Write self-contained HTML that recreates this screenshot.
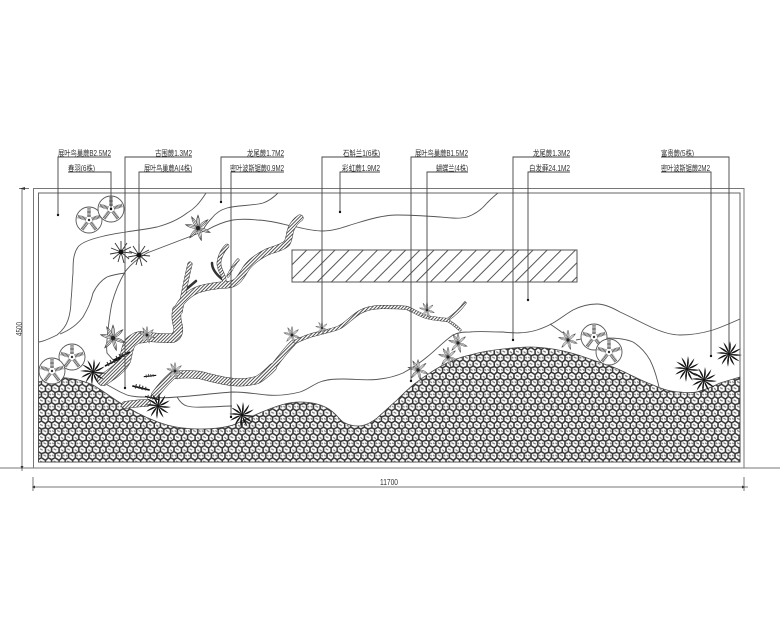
<!DOCTYPE html>
<html lang="zh">
<head>
<meta charset="utf-8">
<title>Planting plan</title>
<style>
html,body{margin:0;padding:0;background:#fff;width:780px;height:624px;overflow:hidden}
svg{display:block}
text{font-family:"Liberation Sans","Noto Sans CJK SC",sans-serif;font-size:8px;fill:#333}
.l{fill:none;stroke:#444;stroke-width:.9}
.c{fill:none;stroke:#555;stroke-width:.9}
.b{fill:none;stroke:#333;stroke-linecap:round;stroke-linejoin:round}
.h{fill:none;stroke:url(#hatch);stroke-linecap:round;stroke-linejoin:round}
</style>
</head>
<body>
<svg width="780" height="624" viewBox="0 0 780 624" xmlns="http://www.w3.org/2000/svg">
<defs>
<pattern id="peb" width="20" height="18" patternUnits="userSpaceOnUse" patternTransform="translate(38 372) scale(.68)">
<rect width="20" height="18" fill="#fff"/>
<path d="M0,3 L5,0 L11,4 L15,0 L20,3 M0,3 V9 M11,4 V10 M20,3 V9 M0,9 L5,12 L11,10 L15,12 L20,9 M5,12 V18 M15,12 V18" fill="none" stroke="#333" stroke-width="2.3"/>
<path d="M3,5 L7,7 M14,6 L17,8 M8,14 L12,16 M1,14 L3,16 M17,14 L19,16" fill="none" stroke="#777" stroke-width="1.8"/>
</pattern>
<pattern id="hatch" width="2.4" height="2.4" patternUnits="userSpaceOnUse" patternTransform="rotate(45)">
<rect width="2.4" height="2.4" fill="#fff"/>
<rect width=".9" height="2.4" fill="#444"/>
</pattern>
<pattern id="wide" width="10" height="14" patternUnits="userSpaceOnUse" patternTransform="translate(292 250) rotate(45)">
<rect width=".9" height="14" fill="#444"/>
</pattern>
<path id="bl" d="M0,0 Q3,-6 1,-13 Q-.3,-6 0,0Z" fill="#111"/>
<g id="palm">
<use href="#bl"/><use href="#bl" transform="rotate(30)"/><use href="#bl" transform="rotate(60)"/>
<use href="#bl" transform="rotate(90)"/><use href="#bl" transform="rotate(120)"/><use href="#bl" transform="rotate(150)"/>
<use href="#bl" transform="rotate(180)"/><use href="#bl" transform="rotate(210)"/><use href="#bl" transform="rotate(240)"/>
<use href="#bl" transform="rotate(270)"/><use href="#bl" transform="rotate(300)"/><use href="#bl" transform="rotate(330)"/>
<circle r="1.6" fill="#111"/>
</g>
<path id="lf" d="M0,0 Q3,-6 0,-13 Q-3,-6 0,0Z M0,0 V-13" fill="#fff" stroke="#444" stroke-width=".6"/>
<g id="leaf">
<use href="#lf"/><use href="#lf" transform="rotate(50)"/><use href="#lf" transform="rotate(110)"/>
<use href="#lf" transform="rotate(165)"/><use href="#lf" transform="rotate(220)"/><use href="#lf" transform="rotate(285)"/><use href="#lf" transform="rotate(330)"/>
<circle r="2" fill="#222"/>
</g>
<g id="thin">
<path d="M0,0 L0,-11 M0,0 L6,-9 M0,0 L10,-5 M0,0 L11,1 M0,0 L8,7 M0,0 L3,11 M0,0 L-3,10 M0,0 L-8,7 M0,0 L-11,2 M0,0 L-10,-4 M0,0 L-6,-9" stroke="#333" stroke-width=".9" fill="none"/>
<circle r="2.4" fill="#111"/>
</g>
<path id="sp" d="M0,-3 V-12" stroke="#555" stroke-width="3.6" stroke-dasharray=".8 .5" fill="none"/>
<g id="circ">
<circle r="13" fill="#fff" stroke="#555" stroke-width=".9"/>
<use href="#sp"/><use href="#sp" transform="rotate(72)"/><use href="#sp" transform="rotate(144)"/>
<use href="#sp" transform="rotate(216)"/><use href="#sp" transform="rotate(288)"/>
<circle r="1.2" fill="#333"/>
</g>
<g id="fern">
<path d="M-8,4 L8,-4" stroke="#111" stroke-width="1.6" fill="none"/>
<path d="M-6,0 L-4,4 M-3,-2 L-1,2 M0,-3 L2,1 M3,-4 L5,-1" stroke="#333" stroke-width="1.1" fill="none"/>
</g>
</defs>

<!-- drawing frame -->
<rect x="33.5" y="188.5" width="710.5" height="279.5" fill="#fff" stroke="#777" stroke-width="1"/>
<rect x="38.5" y="193" width="701.5" height="269" fill="#fff" stroke="#666" stroke-width="1"/>

<!-- pebble ground -->
<path d="M38.5,382 C50,378 60,377 67,378 C78,379 86,382 93,385 C105,392 116,401 127,407 C140,415 153,421 167,425 C178,428 190,429 200,429 C212,429 223,428 233,425 C245,420 256,414 267,410 C277,406 288,402 300,402 C312,402 320,404 327,408 C335,412 338,418 343,422 C348,425 352,426 358,426 C365,426 372,422 377,418 C384,412 390,406 397,400 C404,393 410,387 417,382 C425,376 434,370 443,365 C452,360 461,357 470,355 C481,352 492,350 503,349 C512,348 520,347 530,347 C538,347 546,348 553,349 C565,351 576,354 587,358 C598,362 609,365 620,370 C631,375 642,381 653,385 C662,389 671,392 680,392 C687,393 694,393 700,391 C707,389 714,386 720,383 C727,381 733,379 740,377 L740,462 L38.5,462 Z" fill="url(#peb)" stroke="#444" stroke-width=".8"/>

<!-- hatched panel -->
<rect x="292" y="250" width="285" height="32" fill="url(#wide)" stroke="#555" stroke-width="1"/>

<!-- planting zone curves -->
<path class="c" d="M206,193 C199,204 194,209 187,213 C178,220 168,224 157,227 C138,231 118,232 100,237 C88,240 81,243 78,247 C73,254 73,263 73,273 C72,283 72,292 71,300 C71,308 70,314 68,320 C66,326 62,331 57,335 C51,338 45,341 39,342"/>
<path class="c" d="M278,193 C273,198 269,201 263,203 C252,206 238,205 227,208 C220,210 215,214 212,218 C208,222 205,226 203,230"/>
<path class="c" d="M297,227 C285,225 270,220 257,220 C248,219 240,219 233,220 C222,222 214,226 207,230 L147,253 C137,259 130,265 125,272 C119,282 115,292 112,303 C110,312 109,321 108,330 C107,338 106,346 107,353 L115,362"/>
<path class="c" d="M125,273 C118,274 112,275 107,277 C100,281 96,287 93,293 C91,302 88,308 83,317 C77,325 70,330 60,334"/>
<path class="c" d="M297,227 C305,229 314,231 323,231 C335,231 346,226 357,223 C370,219 384,215 397,215 C412,215 426,216 440,217 C450,218 459,219 467,217 C476,214 482,209 487,203 C491,199 494,196 498,193"/>
<path class="c" d="M100,380 C104,383 109,386 113,388 C118,391 122,393 127,395 C134,397 140,397 147,397 C157,398 167,398 177,397 C196,396 214,393 233,392 C245,392 256,394 267,395 C278,396 288,395 300,392 C307,390 314,384 320,382 C328,379 336,379 343,379 C356,379 368,381 380,379 C389,378 396,376 403,373 C412,368 420,363 427,357 C436,350 444,341 453,335 C459,332 464,332 470,332 C481,331 492,332 503,332 C512,333 524,334 537,330 C543,328 548,326 553,323 C560,319 566,314 573,310 C581,306 589,304 597,304 C605,304 613,308 620,312 C631,317 642,323 653,328 C662,332 671,335 680,335 C692,335 703,333 713,330 C722,327 731,323 740,319"/>
<path class="c" d="M550,324 C556,328 560,331 563,333 M576,340 C585,338 596,337 607,338 C617,338 626,339 633,342 C641,347 646,353 650,360 C654,368 657,378 659,387"/>
<path class="c" d="M177,397 C180,402 183,405 187,406 C194,408 200,407 207,407 C215,407 224,406 232,406"/>

<!-- branches: outline -->
<g class="b" stroke-width="10">
<path stroke-width="12" d="M103,380 C112,374 121,368 125,360 C127,352 127,348 130,343 C134,339 137,337 144,337"/>
<path stroke-width="9.5" d="M144,337 C155,337 164,339 173,338 C178,336 179,331 178,326 C176,320 176,315 177,310"/>
<path stroke-width="7" d="M177,310 C180,302 188,294 197,290 C205,287 213,286 222,285 C230,285 235,284 239,279 C243,274 244,271 247,267 C252,261 259,256 267,252 C274,249 282,248 287,243 C290,238 289,232 292,227 C294,223 297,220 300,218"/>
<path stroke-width="7.5" d="M125,405 C132,404 140,403 147,403"/>
<path stroke-width="8" d="M155,395 C160,388 166,381 173,375 C182,374 192,374 200,375 C211,378 222,381 233,382 C242,383 250,382 257,380 C263,377 268,372 273,367"/>
<path stroke-width="6" d="M273,367 C280,358 286,350 293,343"/>
<path stroke-width="4" d="M293,343 C302,338 311,335 320,333 C327,331 334,330 340,327 C347,323 353,316 360,312 C367,308 375,307 383,307 C391,307 400,307 407,308 C414,311 420,315 427,317 C434,319 441,319 447,320"/>
<path stroke-width="3" d="M447,320 C452,323 456,326 460,330 M447,320 C453,316 460,310 465,303"/>
<path stroke-width="5" d="M180,312 C183,296 186,280 190,264"/>
<path stroke-width="2.5" d="M183,292 L196,281"/>
<path stroke-width="4.5" d="M224,285 C226,276 218,270 219,262 C220,255 223,250 227,246"/>
<path stroke-width="2.5" d="M222,279 C217,275 212,270 212,263"/>
<path stroke-width="3" d="M228,276 C231,270 234,264 238,260"/>
</g>
<!-- branches: hatch fill -->
<g class="h">
<path stroke-width="11" d="M103,380 C112,374 121,368 125,360 C127,352 127,348 130,343 C134,339 137,337 144,337"/>
<path stroke-width="8.5" d="M144,337 C155,337 164,339 173,338 C178,336 179,331 178,326 C176,320 176,315 177,310"/>
<path stroke-width="6" d="M177,310 C180,302 188,294 197,290 C205,287 213,286 222,285 C230,285 235,284 239,279 C243,274 244,271 247,267 C252,261 259,256 267,252 C274,249 282,248 287,243 C290,238 289,232 292,227 C294,223 297,220 300,218"/>
<path stroke-width="6.5" d="M125,405 C132,404 140,403 147,403"/>
<path stroke-width="7" d="M155,395 C160,388 166,381 173,375 C182,374 192,374 200,375 C211,378 222,381 233,382 C242,383 250,382 257,380 C263,377 268,372 273,367"/>
<path stroke-width="5" d="M273,367 C280,358 286,350 293,343"/>
<path stroke-width="3" d="M293,343 C302,338 311,335 320,333 C327,331 334,330 340,327 C347,323 353,316 360,312 C367,308 375,307 383,307 C391,307 400,307 407,308 C414,311 420,315 427,317 C434,319 441,319 447,320"/>
<path stroke-width="2" d="M447,320 C452,323 456,326 460,330 M447,320 C453,316 460,310 465,303"/>
<path stroke-width="4" d="M180,312 C183,296 186,280 190,264"/>
<path stroke-width="3.5" d="M224,285 C226,276 218,270 219,262 C220,255 223,250 227,246"/>
<path stroke-width="2" d="M228,276 C231,270 234,264 238,260"/>
</g>

<!-- round plants -->
<use href="#circ" x="89" y="220"/>
<use href="#circ" x="111" y="209"/>
<use href="#circ" x="72" y="357"/>
<use href="#circ" x="52" y="371"/>
<use href="#circ" x="594" y="337"/>
<use href="#circ" x="609" y="352"/>

<!-- dark palms -->
<use href="#palm" x="93" y="372"/>
<use href="#palm" x="158" y="406"/>
<use href="#palm" x="242" y="415"/>
<use href="#palm" x="687" y="369"/>
<use href="#palm" x="704" y="380"/>
<use href="#palm" x="729" y="354"/>

<!-- thin dark plants -->
<use href="#thin" x="121" y="252"/>
<use href="#thin" x="139" y="255"/>

<!-- leaf plants -->
<use href="#leaf" transform="translate(198 228)"/>
<use href="#leaf" transform="translate(113 338)"/>
<use href="#leaf" transform="translate(147 335) scale(.65)"/>
<use href="#leaf" transform="translate(292 335) scale(.65)"/>
<use href="#leaf" transform="translate(175 371) scale(.65)"/>
<use href="#leaf" transform="translate(322 328) scale(.5)"/>
<use href="#leaf" transform="translate(427 310) scale(.6)"/>
<use href="#leaf" transform="translate(458 343) scale(.75)"/>
<use href="#leaf" transform="translate(448 357) scale(.75)"/>
<use href="#leaf" transform="translate(418 370) scale(.8)"/>
<use href="#leaf" transform="translate(568 340) scale(.75)"/>

<!-- small ferns -->
<use href="#fern" x="113" y="362"/>
<use href="#fern" x="122" y="356"/>
<use href="#fern" transform="translate(150 376) rotate(20) scale(.7)"/>
<use href="#fern" transform="translate(141 388) rotate(40)"/>
<use href="#fern" transform="translate(152 398) rotate(40) scale(.8)"/>

<!-- leader lines -->
<g class="l">
<path d="M111,157 H58 V215"/>
<path d="M68,172 H111 V209"/>
<path d="M192,157 H125 V388"/>
<path d="M192,172 H139 V253"/>
<path d="M284,157 H221 V202"/>
<path d="M284,172 H231 V417"/>
<path d="M380,157 H322 V327"/>
<path d="M380,172 H340 V212"/>
<path d="M468,157 H411 V381"/>
<path d="M468,172 H427 V310"/>
<path d="M570,157 H513 V340"/>
<path d="M570,172 H528 V300"/>
<path d="M661,157 H729 V352"/>
<path d="M661,172 H711 V356"/>
</g>
<g fill="#111">
<circle cx="58" cy="215" r="1.2"/><circle cx="111" cy="209" r="1.2"/><circle cx="125" cy="388" r="1.2"/>
<circle cx="221" cy="202" r="1.2"/><circle cx="231" cy="417" r="1.2"/><circle cx="340" cy="212" r="1.2"/>
<circle cx="411" cy="381" r="1.2"/><circle cx="528" cy="300" r="1.2"/><circle cx="711" cy="356" r="1.2"/>
<circle cx="513" cy="340" r="1.2"/>
</g>

<!-- labels -->
<text x="58" y="156" textLength="53" lengthAdjust="spacingAndGlyphs">展叶鸟巢蕨B2.5M2</text>
<text x="68" y="171" textLength="27" lengthAdjust="spacingAndGlyphs">春羽(6株)</text>
<text x="155" y="156" textLength="37" lengthAdjust="spacingAndGlyphs">古围蕨1.3M2</text>
<text x="144" y="171" textLength="48" lengthAdjust="spacingAndGlyphs">展叶鸟巢蕨A(4株)</text>
<text x="247" y="156" textLength="37" lengthAdjust="spacingAndGlyphs">龙尾蕨1.7M2</text>
<text x="230" y="171" textLength="54" lengthAdjust="spacingAndGlyphs">密叶波斯锯蕨0.9M2</text>
<text x="343" y="156" textLength="37" lengthAdjust="spacingAndGlyphs">石斛兰1(6株)</text>
<text x="342" y="171" textLength="38" lengthAdjust="spacingAndGlyphs">彩虹蕨1.9M2</text>
<text x="415" y="156" textLength="53" lengthAdjust="spacingAndGlyphs">展叶鸟巢蕨B1.5M2</text>
<text x="436" y="171" textLength="32" lengthAdjust="spacingAndGlyphs">蝴蝶兰(4株)</text>
<text x="533" y="156" textLength="37" lengthAdjust="spacingAndGlyphs">龙尾蕨1.3M2</text>
<text x="529" y="171" textLength="41" lengthAdjust="spacingAndGlyphs">白发藓24.1M2</text>
<text x="661" y="156" textLength="33" lengthAdjust="spacingAndGlyphs">富贵蕨(5株)</text>
<text x="661" y="171" textLength="49" lengthAdjust="spacingAndGlyphs">密叶波斯锯蕨2M2</text>

<!-- dimensions -->
<g fill="none" stroke="#777" stroke-width="1">
<path d="M0,468 H780"/>
<path d="M22,188.5 V471"/>
<path d="M19,188.5 H29"/>
<path d="M33,487 H748"/>
<path d="M33,477 V491 M744,477 V491"/>
</g>
<path d="M20,188.5 L25,187 V190Z M22,469 L20.500,466 H23.500Z M32,487 L35,485.500 V488.500Z M745,487 L742,485.500 V488.500Z" fill="#333"/>
<text x="380" y="485" textLength="18" lengthAdjust="spacingAndGlyphs">11700</text>
<text transform="translate(22 336) rotate(-90)" textLength="14" lengthAdjust="spacingAndGlyphs">4500</text>
</svg>
</body>
</html>
